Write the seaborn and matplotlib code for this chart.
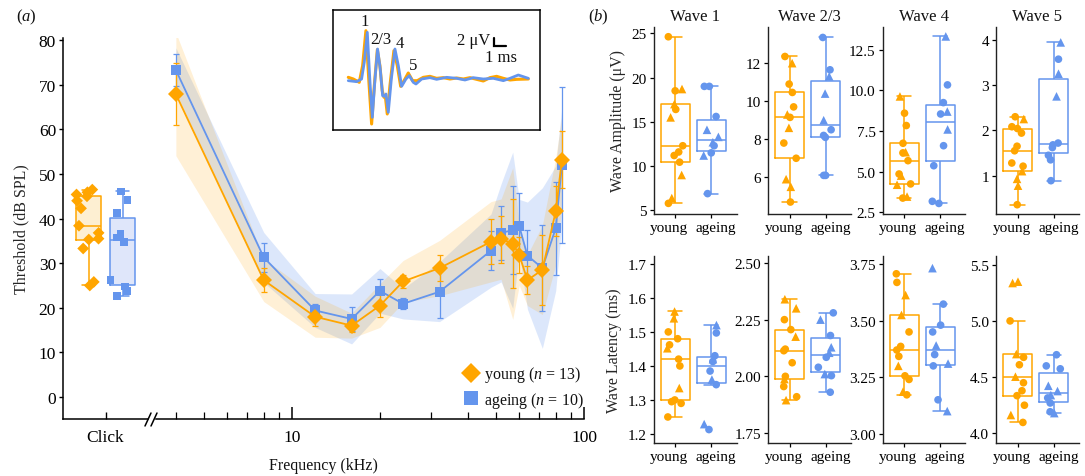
import numpy as np
import pandas as pd
import matplotlib
matplotlib.use("Agg")
import matplotlib.pyplot as plt
import matplotlib.transforms as mtransforms
from matplotlib.lines import Line2D
from matplotlib.ticker import FixedLocator, NullFormatter, FuncFormatter, FormatStrFormatter
import seaborn as sns

sns.set_theme(style="ticks")
plt.rcParams["font.family"] = ["Liberation Serif", "DejaVu Serif"]
plt.rcParams["mathtext.fontset"] = "custom"
plt.rcParams["mathtext.rm"] = "Liberation Serif"
plt.rcParams["mathtext.it"] = "Liberation Serif:italic"
plt.rcParams["axes.edgecolor"] = "black"
plt.rcParams["xtick.color"] = "black"
plt.rcParams["ytick.color"] = "black"
plt.rcParams["text.color"] = "#111111"

YOUNG = "#FFA500"
AGEING = "#6495ED"
YOUNG_FILL = "#FDEFD2"
AGEING_FILL = "#DFE6FA"
GROUPS = ["young", "ageing"]
PAL = {"young": YOUNG, "ageing": AGEING}

# ---------------- (a) ABR thresholds ----------------
freq_khz = [4, 8, 12, 16, 20, 24, 32, 48, 52, 57, 60, 64, 72, 80, 84]
thr_young = [67.9, 26.2, 18.0, 16.0, 20.5, 25.9, 28.9, 34.8, 35.4, 34.4, 31.9, 26.2, 28.5, 41.6, 53.2]
thr_young_err = [7.0, 2.75, 2.0, 1.4, 2.65, 1.5, 3.0, 5.0, 5.25, 10.0, 4.0, 3.2, 7.8, 5.6, 6.4]
thr_young_sd = [13.8, 4.8, 4.6, 2.8, 4.9, 4.7, 6.2, 9.0, 9.0, 17.0, 6.9, 5.7, 10.0, 12.0, 10.0]
thr_ageing = [73.3, 31.3, 19.4, 17.5, 23.8, 20.9, 23.6, 32.8, 36.8, 37.4, 38.3, 31.7, 28.9, 37.8, 52.0]
thr_ageing_err = [3.5, 3.2, 1.4, 2.6, 2.65, 1.25, 6.0, 4.4, 6.1, 9.8, 7.4, 5.8, 9.7, 10.5, 17.5]
thr_ageing_sd = [5.0, 5.6, 3.8, 5.6, 5.0, 3.4, 6.7, 8.2, 11.0, 17.5, 6.0, 12.0, 18.0, 14.0, 13.0]

click_young = [25.0, 25.8, 33.3, 35.3, 35.5, 36.8, 38.4, 42.3, 44.0, 45.0, 45.4, 45.9, 46.5]
click_ageing = [22.7, 23.7, 24.8, 26.2, 34.8, 35.8, 36.6, 41.2, 44.2, 46.1]

# averaged ABR waveforms for the inset (time in ms, amplitude in uV)
wave_t_young = [0.0, 0.43, 0.94, 1.23, 1.51, 1.77, 2.0, 2.23, 2.49, 2.71, 2.91, 3.06, 3.17, 3.34,
                3.57, 3.91, 4.2, 4.49, 4.86, 5.14, 5.51, 5.91, 6.43, 7.0, 7.57, 8.14, 8.71, 9.29,
                9.86, 10.43, 11.0, 11.57, 12.14, 12.71, 13.29, 13.86, 14.43, 15.43]
wave_a_young = [0.5, 0.0, -1.0, 4.0, 14.5, -1.0, -13.5, -2.0, 8.8, 4.0, -3.5, -5.5, -5.0, -10.5,
                -2.0, 8.5, 4.0, -2.2, 0.0, 1.8, -0.5, -0.5, 0.5, 0.8, 0.2, 0.4, 0.0, 0.3,
                0.0, 0.4, -0.1, -0.6, 0.4, 0.8, 0.2, -0.3, -0.1, 0.0]
wave_t_ageing = [0.0, 0.71, 1.14, 1.37, 1.63, 1.86, 2.06, 2.29, 2.51, 2.74, 2.94, 3.11, 3.23, 3.43,
                 3.69, 4.0, 4.29, 4.57, 4.94, 5.23, 5.57, 5.8, 6.29, 7.0, 7.57, 8.43, 9.29, 10.0,
                 10.71, 11.57, 12.43, 13.29, 13.86, 14.57, 15.43]
wave_a_ageing = [-0.5, -0.8, 0.0, 5.0, 14.0, -1.0, -11.5, 0.0, 9.0, 3.0, -5.0, -5.2, -4.5, -10.0,
                 0.0, 9.0, 4.0, -2.2, 0.0, 1.0, -1.0, -1.5, 0.0, 0.4, -0.1, 0.5, 0.2, -0.3,
                 0.4, 0.0, 0.2, -0.5, 0.2, 1.2, 0.2]
wave_peaks = ["1", "2/3", "4", "5"]

# ---------------- (b) wave amplitudes / latencies ----------------
# marker strings: c = circle, t = triangle (one letter per animal)
amp_w1_young = [5.8, 6.4, 9.0, 10.45, 11.2, 11.6, 12.3, 15.5, 16.4, 17.0, 18.5, 18.7, 24.6]
amp_w1_young_mk = "cttcccctctctc"
amp_w1_ageing = [6.9, 11.2, 11.5, 12.3, 12.7, 13.3, 14.1, 15.6, 19.0, 19.0]
amp_w1_ageing_mk = "ctcctttccc"
amp_w23_young = [4.7, 5.5, 5.9, 7.0, 7.8, 8.6, 9.15, 9.3, 9.7, 10.46, 10.9, 12.0, 12.35]
amp_w23_young_mk = "cttcctctccctc"
amp_w23_ageing = [6.1, 6.1, 8.1, 8.2, 8.5, 9.0, 10.4, 11.3, 11.65, 13.35]
amp_w23_ageing_mk = "ccccctttcc"
amp_w4_young = [3.38, 3.47, 4.2, 4.25, 4.76, 4.86, 5.68, 6.16, 6.2, 6.75, 7.84, 8.6, 9.63]
amp_w4_young_mk = "cttctccctccct"
amp_w4_ageing = [3.05, 3.18, 5.37, 6.6, 7.6, 8.55, 8.7, 9.25, 10.34, 13.32]
amp_w4_ageing_mk = "cccctctcct"
amp_w5_young = [0.36, 0.78, 0.93, 1.10, 1.21, 1.28, 1.55, 1.65, 1.94, 2.04, 2.08, 2.25, 2.30]
amp_w5_young_mk = "ctttccccccctc"
amp_w5_ageing = [0.89, 1.35, 1.45, 1.62, 1.68, 1.72, 2.75, 3.25, 3.57, 3.94]
amp_w5_ageing_mk = "ccccccttct"

lat_w1_young = [1.25, 1.29, 1.295, 1.30, 1.335, 1.40, 1.42, 1.452, 1.462, 1.48, 1.50, 1.54, 1.56]
lat_w1_young_mk = "cccctcctccctt"
lat_w1_ageing = [1.213, 1.229, 1.345, 1.36, 1.385, 1.413, 1.42, 1.43, 1.497, 1.52]
lat_w1_ageing_mk = "ctctcctcct"
lat_w23_young = [1.895, 1.91, 1.955, 1.988, 2.00, 2.06, 2.113, 2.12, 2.175, 2.206, 2.25, 2.30, 2.34]
lat_w23_young_mk = "tcctcccctcctt"
lat_w23_ageing = [1.93, 2.003, 2.01, 2.04, 2.084, 2.104, 2.128, 2.18, 2.25, 2.28]
lat_w23_ageing_mk = "cctccttctc"
lat_w4_young = [3.172, 3.186, 3.24, 3.256, 3.30, 3.342, 3.37, 3.386, 3.45, 3.525, 3.613, 3.669, 3.707]
lat_w4_young_mk = "ctcctccccttcc"
lat_w4_ageing = [3.10, 3.15, 3.30, 3.31, 3.35, 3.39, 3.45, 3.48, 3.573, 3.732]
lat_w4_ageing_mk = "tcctctccct"
lat_w5_young = [4.097, 4.163, 4.25, 4.335, 4.379, 4.45, 4.504, 4.61, 4.676, 4.705, 5.0, 5.337, 5.349]
lat_w5_young_mk = "ctcccctcctctt"
lat_w5_ageing = [4.18, 4.192, 4.27, 4.315, 4.34, 4.376, 4.423, 4.574, 4.60, 4.699]
lat_w5_ageing_mk = "tccctttccc"

wave_titles = ["Wave 1", "Wave 2/3", "Wave 4", "Wave 5"]
amp_ticks = [[5, 10, 15, 20, 25], [6, 8, 10, 12], [2.5, 5.0, 7.5, 10.0, 12.5], [1, 2, 3, 4]]
lat_ticks = [[1.2, 1.3, 1.4, 1.5, 1.6, 1.7], [1.75, 2.00, 2.25, 2.50],
             [3.00, 3.25, 3.50, 3.75], [4.0, 4.5, 5.0, 5.5]]

# ---------------- figure ----------------
W, H = 1085, 477
fig = plt.figure(figsize=(W / 100, H / 100), dpi=100)


def rect(x0, y0, x1, y1):
    """Axes rectangle from pixel corners (top-left origin)."""
    return [x0 / W, 1 - y1 / H, (x1 - x0) / W, (y1 - y0) / H]


A_TOP, A_BOT = 38.5, 420.3
YLIM_A = (-5, 80.6)

# --- click thresholds (left part of the broken axis)
axc = fig.add_axes(rect(63, A_TOP, 148, A_BOT))
click_df = pd.DataFrame({
    "stim": "Click",
    "group": ["young"] * len(click_young) + ["ageing"] * len(click_ageing),
    "thr": click_young + click_ageing,
})
sns.boxplot(data=click_df, x="stim", y="thr", hue="group", hue_order=GROUPS,
            palette={"young": YOUNG_FILL, "ageing": AGEING_FILL}, saturation=1,
            width=0.8, gap=0.25, linewidth=0, fliersize=0, legend=False, ax=axc)
sns.boxplot(data=click_df, x="stim", y="thr", hue="group", hue_order=GROUPS,
            palette=PAL, fill=False, width=0.8, gap=0.25, linewidth=1.1,
            fliersize=0, legend=False, ax=axc)
np.random.seed(3)
for grp, mk, sz in [("young", "D", 6), ("ageing", "s", 5.5)]:
    sns.stripplot(data=click_df[click_df["group"] == grp], x="stim", y="thr",
                  hue="group", hue_order=GROUPS, palette=PAL, dodge=True,
                  jitter=0.3, marker=mk, size=sz, linewidth=0, legend=False, ax=axc)
axc.set_xlim(-0.5, 0.5)
axc.set_ylim(*YLIM_A)
axc.set_yticks(range(0, 81, 10))
axc.set_xlabel("")
axc.set_ylabel("Threshold (dB SPL)", fontsize=11.5, labelpad=7)
axc.tick_params(axis="y", direction="out", length=3, width=1, labelsize=12.5, pad=2)
axc.tick_params(axis="x", direction="in", length=5, width=1, labelsize=12.5, pad=7)
for s in ["top", "right"]:
    axc.spines[s].set_visible(False)
for s in ["left", "bottom"]:
    axc.spines[s].set_linewidth(1.1)

# --- frequency thresholds (right part, log scale)
axf = fig.add_axes(rect(156, A_TOP, 584, A_BOT))
axf.set_xscale("log")
f = np.array(freq_khz, dtype=float)
series = [
    ("ageing", np.array(thr_ageing), np.array(thr_ageing_err), np.array(thr_ageing_sd), AGEING, "s", 7.5, 0.22),
    ("young", np.array(thr_young), np.array(thr_young_err), np.array(thr_young_sd), YOUNG, "D", 8.5, 0.16),
]
for grp, m, e, sd, col, mk, ms, a in series:
    axf.fill_between(f, m - sd, m + sd, color=col, alpha=a, lw=0, zorder=1)
    axf.errorbar(f, m, yerr=e, fmt="none", ecolor=col, elinewidth=0.9,
                 capsize=2.2, capthick=0.9, zorder=2)
    sns.lineplot(x=f, y=m, color=col, marker=mk, markersize=ms, markeredgewidth=0,
                 linewidth=1.3, ax=axf, zorder=3)
axf.set_xlim(3.42, 100)
axf.set_ylim(*YLIM_A)
axf.xaxis.set_major_locator(FixedLocator([10, 100]))
axf.xaxis.set_major_formatter(FuncFormatter(lambda v, _: f"{v:g}"))
axf.xaxis.set_minor_locator(FixedLocator([4, 5, 6, 7, 8, 9, 20, 30, 40, 50, 60, 70, 80, 90]))
axf.xaxis.set_minor_formatter(NullFormatter())
axf.tick_params(axis="x", which="major", direction="in", length=9, width=1.1, labelsize=12.5, pad=7)
axf.tick_params(axis="x", which="minor", direction="in", length=5, width=0.9)
axf.set_yticks([])
axf.set_xlabel("")
axf.set_ylabel("")
for s in ["top", "right", "left"]:
    axf.spines[s].set_visible(False)
axf.spines["bottom"].set_linewidth(1.1)

# axis break marks
for x0 in (145, 151):
    fig.add_artist(Line2D([x0 / W, (x0 + 6) / W], [1 - 427 / H, 1 - 414 / H],
                          color="black", lw=1.1))

fig.text(323 / W, 1 - 466 / H, "Frequency (kHz)", ha="center", va="center", fontsize=11.5)
fig.text(26 / W, 1 - 17 / H, "($a$)", ha="center", va="center", fontsize=12)
fig.text(598 / W, 1 - 17 / H, "($b$)", ha="center", va="center", fontsize=12)

handles = [
    Line2D([], [], marker="D", color=YOUNG, ls="none", markersize=10, markeredgewidth=0),
    Line2D([], [], marker="s", color=AGEING, ls="none", markersize=9.5, markeredgewidth=0),
]
fig.legend(handles, ["young ($n$ = 13)", "ageing ($n$ = 10)"], loc="upper left",
           bbox_to_anchor=(450 / W, 1 - 354 / H), frameon=False, fontsize=11.5,
           handletextpad=0.25, labelspacing=0.35, handlelength=1.2, borderpad=0.2)

# --- inset with averaged waveforms
axi = fig.add_axes(rect(333, 11, 540, 131))
sns.lineplot(x=wave_t_young, y=wave_a_young, color=YOUNG, lw=2.2, sort=False, ax=axi)
sns.lineplot(x=wave_t_ageing, y=wave_a_ageing, color=AGEING, lw=2.0, sort=False, ax=axi)
axi.set_xlim(-1.31, 16.43)
axi.set_ylim(-15.3, 20.7)
axi.set_xticks([])
axi.set_yticks([])
for s in axi.spines.values():
    s.set_linewidth(1.1)
    s.set_color("black")
for lab, (tx, ty) in zip(wave_peaks, [(1.43, 17.5), (2.8, 12.0), (4.43, 10.7), (5.52, 4.3)]):
    axi.text(tx, ty, lab, ha="center", va="center", fontsize=12)
axi.plot([12.5, 12.5, 13.55], [12.2, 10.0, 10.0], color="black", lw=1.6, solid_joinstyle="miter")
axi.text(12.2, 11.6, "2 μV", ha="right", va="center", fontsize=12)
axi.text(13.1, 6.6, "1 ms", ha="center", va="center", fontsize=12)

# ---------------- (b) box plots ----------------
amp_sets = [
    (amp_w1_young, amp_w1_young_mk, amp_w1_ageing, amp_w1_ageing_mk),
    (amp_w23_young, amp_w23_young_mk, amp_w23_ageing, amp_w23_ageing_mk),
    (amp_w4_young, amp_w4_young_mk, amp_w4_ageing, amp_w4_ageing_mk),
    (amp_w5_young, amp_w5_young_mk, amp_w5_ageing, amp_w5_ageing_mk),
]
lat_sets = [
    (lat_w1_young, lat_w1_young_mk, lat_w1_ageing, lat_w1_ageing_mk),
    (lat_w23_young, lat_w23_young_mk, lat_w23_ageing, lat_w23_ageing_mk),
    (lat_w4_young, lat_w4_young_mk, lat_w4_ageing, lat_w4_ageing_mk),
    (lat_w5_young, lat_w5_young_mk, lat_w5_ageing, lat_w5_ageing_mk),
]
amp_ylims = [(4.6, 25.7), (4.07, 13.9), (2.4, 13.9), (0.155, 4.28)]
lat_ylims = [(1.1735, 1.724), (1.706, 2.532), (2.959, 3.787), (3.914, 5.58)]
amp_fmt = ["%g", "%g", "%.1f", "%g"]
lat_fmt = ["%.1f", "%.2f", "%.2f", "%.1f"]
col_left = [653.5, 768, 882.5, 996]
rows = [(28, 215, amp_sets, amp_ylims, amp_ticks, amp_fmt, "Wave Amplitude (μV)"),
        (256.7, 444, lat_sets, lat_ylims, lat_ticks, lat_fmt, "Wave Latency (ms)")]
# small sideways nudge of the two group labels so they sit apart
label_shift = [mtransforms.ScaledTranslation(-6 / 100, 0, fig.dpi_scale_trans),
               mtransforms.ScaledTranslation(5 / 100, 0, fig.dpi_scale_trans)]

np.random.seed(7)
for r, (top, bot, sets, ylims, ticks, fmts, ylab) in enumerate(rows):
    for c in range(4):
        ax = fig.add_axes(rect(col_left[c], top, col_left[c] + 83, bot))
        yv, ymk, av, amk = sets[c]
        df = pd.DataFrame({
            "group": ["young"] * len(yv) + ["ageing"] * len(av),
            "value": list(yv) + list(av),
            "shape": list(ymk) + list(amk),
        })
        sns.boxplot(data=df, x="group", y="value", order=GROUPS, hue="group",
                    hue_order=GROUPS, palette=PAL, fill=False, width=0.8,
                    linewidth=1.1, fliersize=0, legend=False, ax=ax)
        for shp, mk, sz in [("c", "o", 5.5), ("t", "^", 6.2)]:
            sub = df[df["shape"] == shp]
            sns.stripplot(data=sub, x="group", y="value", order=GROUPS, hue="group",
                          hue_order=GROUPS, palette=PAL, jitter=0.22, marker=mk,
                          size=sz, linewidth=0, legend=False, ax=ax)
        ax.set_xlim(-0.6, 1.7)
        ax.set_ylim(*ylims[c])
        ax.set_yticks(ticks[c])
        ax.yaxis.set_major_formatter(FormatStrFormatter(fmts[c]))
        ax.set_xlabel("")
        ax.set_ylabel(ylab if c == 0 else "", fontsize=11.5, labelpad=4)
        ax.tick_params(axis="both", direction="out", length=3, width=0.9,
                       labelsize=11, pad=2)
        for lbl, sh in zip(ax.get_xticklabels(), label_shift):
            lbl.set_transform(lbl.get_transform() + sh)
        for s in ["top", "right"]:
            ax.spines[s].set_visible(False)
        for s in ["left", "bottom"]:
            ax.spines[s].set_linewidth(1.0)
            ax.spines[s].set_color("#222222")
        if r == 0:
            ax.set_title(wave_titles[c], fontsize=12, pad=5)

fig.savefig("out.png", dpi=100)
